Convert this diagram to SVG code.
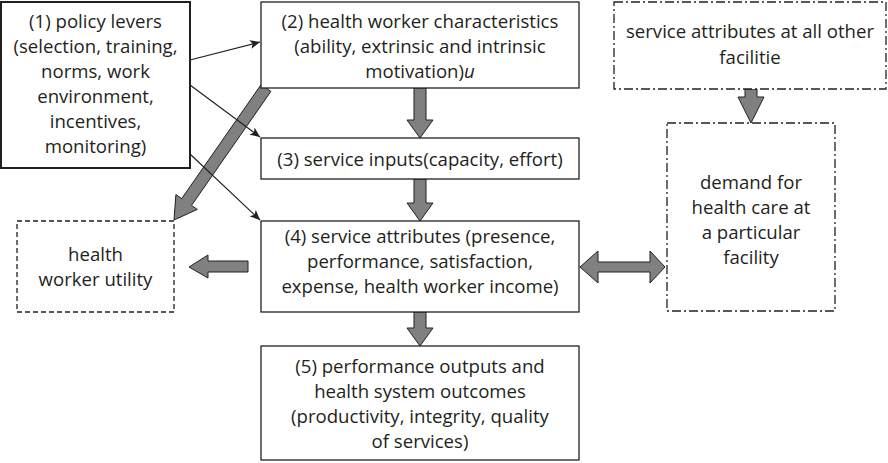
<svg xmlns="http://www.w3.org/2000/svg" width="888" height="463" viewBox="0 0 888 463">
<defs>
<marker id="ah" viewBox="0 0 10 10" refX="10" refY="5" markerWidth="10" markerHeight="10" markerUnits="userSpaceOnUse" orient="auto">
<path d="M0,0.5 L10,5 L0,9.5 L2.5,5 Z" fill="#231f20"/>
</marker>
<style>
.box{fill:#fff;stroke:#231f20;stroke-width:1.3}
.thick{stroke-width:2}
.dash{stroke-dasharray:5 3}
.dd{stroke-dasharray:9 3 2 3}
.blk{fill:#808080;stroke:#231f20;stroke-width:1;stroke-linejoin:miter}
.ln{fill:none;stroke:#231f20;stroke-width:1.2;marker-end:url(#ah)}
text{font-family:"Open Sans","Liberation Sans",sans-serif;font-size:18.6px;fill:#231f20;text-anchor:middle}
</style>
</defs>
<g id="connectors">
<polygon class="blk" points="414,88 426,88 426,120 433,120 420,138 407,120 414,120"/>
<polygon class="blk" points="414,179 426,179 426,203 433,203 420,221 407,203 414,203"/>
<polygon class="blk" points="414,312 426,312 426,328 433,328 420,346 407,328 414,328"/>
<polygon class="blk" points="745,89 757,89 757,97 764,97 751,123 738,97 745,97"/>
<polygon class="blk" points="248,261 248,272 208,272 208,278 189,267 208,255 208,261"/>
<polygon class="blk" points="580,267 598,251 598,262 650,262 650,251 665,267 650,283 650,272 598,272 598,283"/>
<polygon class="blk" points="270.9,91.4 191.5,205.4 197.3,209.4 174,220 175.9,194.6 181.7,198.6 261.1,84.6"/>
<line class="ln" x1="190" y1="60" x2="260" y2="42"/>
<line class="ln" x1="190" y1="85" x2="260" y2="137"/>
<line class="ln" x1="190" y1="154" x2="260" y2="220"/>
</g>
<g id="n1">
<rect class="box thick" x="1" y="2" width="189" height="166"/>
<text x="95.5" y="28">(1) policy levers</text>
<text x="95.5" y="53">(selection, training,</text>
<text x="95.5" y="78">norms, work</text>
<text x="95.5" y="103">environment,</text>
<text x="95.5" y="128">incentives,</text>
<text x="95.5" y="153">monitoring)</text>
</g>
<g id="n2">
<rect class="box" x="261" y="2" width="318" height="86"/>
<text x="420" y="28">(2) health worker characteristics</text>
<text x="420" y="53">(ability, extrinsic and intrinsic</text>
<text x="420" y="78">motivation)<tspan font-style="italic">u</tspan></text>
</g>
<g id="n3">
<rect class="box" x="261" y="138" width="318" height="41"/>
<text x="420" y="166">(3) service inputs(capacity, effort)</text>
</g>
<g id="n4">
<rect class="box" x="261" y="221" width="318" height="91"/>
<text x="420" y="243">(4) service attributes (presence,</text>
<text x="420" y="268">performance, satisfaction,</text>
<text x="420" y="293">expense, health worker income)</text>
</g>
<g id="n5">
<rect class="box" x="261" y="346" width="318" height="114"/>
<text x="420" y="373">(5) performance outputs and</text>
<text x="420" y="398">health system outcomes</text>
<text x="420" y="423">(productivity, integrity, quality</text>
<text x="420" y="448">of services)</text>
</g>
<g id="utility">
<rect class="box dash" x="17" y="221" width="157" height="91"/>
<text x="95.5" y="261">health</text>
<text x="95.5" y="286">worker utility</text>
</g>
<g id="other">
<rect class="box dd" x="614" y="2" width="272" height="87"/>
<text x="750" y="38">service attributes at all other</text>
<text x="750" y="64">facilitie</text>
</g>
<g id="demand">
<rect class="box dd" x="667" y="123" width="168" height="188"/>
<text x="751" y="189">demand for</text>
<text x="751" y="214">health care at</text>
<text x="751" y="239">a particular</text>
<text x="751" y="264">facility</text>
</g>
</svg>
